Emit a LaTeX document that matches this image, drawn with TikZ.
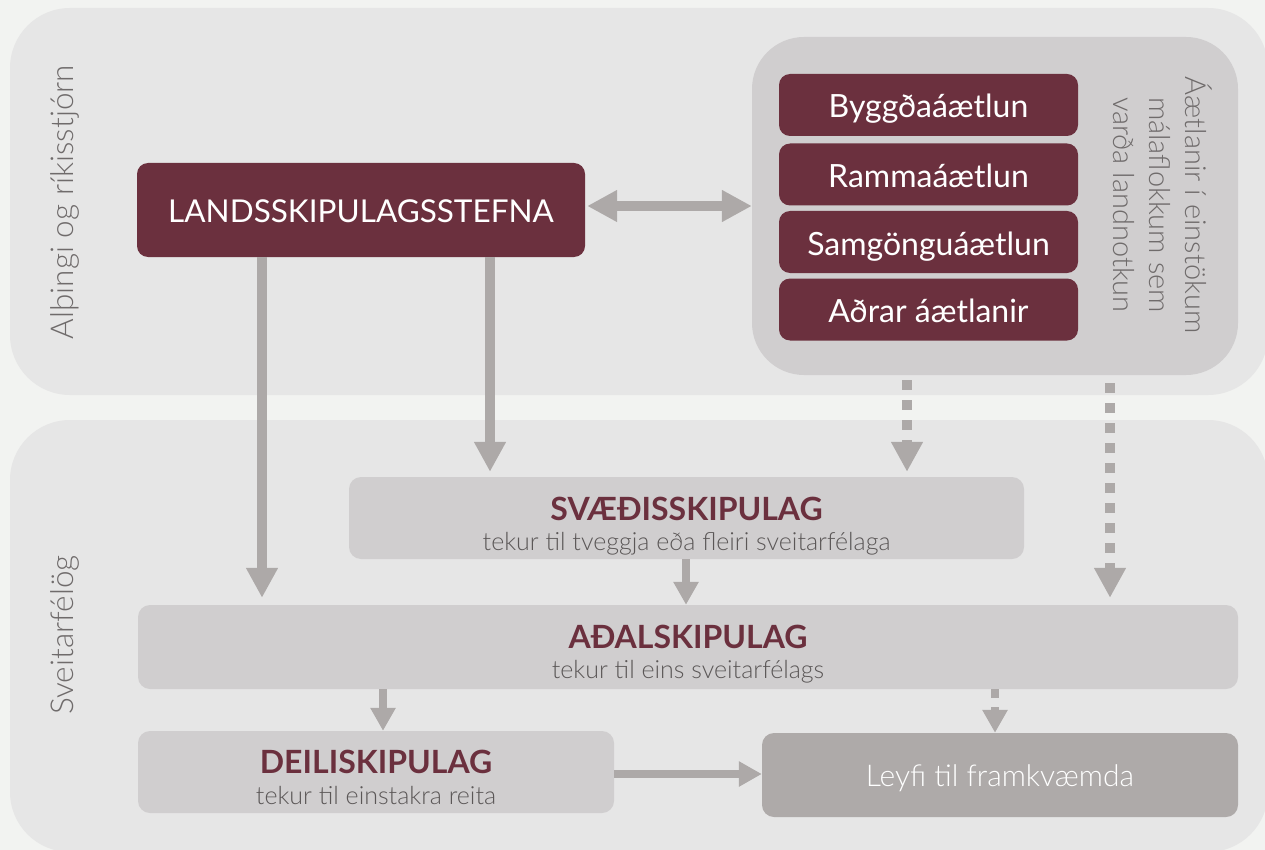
\documentclass[tikz,border=0pt]{standalone}
\usepackage{fontspec}
\setmainfont{Lato}
\newfontfamily\lightfont{Lato Light}
\usetikzlibrary{arrows.meta}
\definecolor{bgc}{HTML}{F2F3F1}
\definecolor{panelc}{HTML}{E6E6E6}
\definecolor{boxc}{HTML}{D0CECF}
\definecolor{maroon}{HTML}{6B303E}
\definecolor{arrowc}{HTML}{ADA9A8}
\definecolor{leyfic}{HTML}{AEAAA9}
\definecolor{labelc}{HTML}{6F6B6B}
\definecolor{subc}{HTML}{5B5757}
\newcommand{\fsz}[1]{\fontsize{#1}{#1}\selectfont}
\tikzset{
  panelbox/.style={fill=panelc, draw=none, rounded corners=60pt, inner sep=0pt, rectangle},
  subpanel/.style={fill=boxc, draw=none, rounded corners=52pt, inner sep=0pt, rectangle},
  darkbox/.style={fill=maroon, draw=none, rounded corners=11pt, inner sep=0pt, text=white, rectangle, text height=30pt, text depth=4pt},
  lightbox/.style={fill=boxc, draw=none, rounded corners=12pt, inner sep=0pt, rectangle},
  leyfibox/.style={fill=leyfic, draw=none, rounded corners=12pt, inner sep=0pt, rectangle, text=white, font=\lightfont\fsz{30}, text height=26pt, text depth=4pt},
  sidelabel/.style={text=labelc, font=\lightfont\fsz{31.5}, inner sep=0pt},
  titletext/.style={text=maroon, font=\bfseries\fsz{32}, inner sep=0pt, anchor=base},
  subtext/.style={text=subc, font=\lightfont\fsz{25}, inner sep=0pt, anchor=base},
  bigarrow/.style={draw=arrowc, line width=10pt, -{Triangle[length=30pt,width=30pt]}},
  dotarrow/.style={bigarrow, dash pattern=on 10pt off 10pt},
  smallarrow/.style={draw=arrowc, line width=8pt, -{Triangle[length=23pt,width=24pt]}},
  dblarrow/.style={draw=arrowc, line width=10pt, {Triangle[length=30pt,width=30pt]}-{Triangle[length=30pt,width=30pt]}}
}
\begin{document}
\begin{tikzpicture}[x=1pt,y=-1pt]
\useasboundingbox (0,0) rectangle (1265,850);
\fill[bgc] (0,0) rectangle (1265,850);
\begin{scope}
\clip (0,0) rectangle (1265,850);
\node[panelbox, minimum width=1258pt, minimum height=387pt] (toppanel) at (639,201.5) {};
\node[panelbox, minimum width=1258pt, minimum height=432pt] (botpanel) at (639,636) {};
\end{scope}

\node[sidelabel, rotate=90] (lab1) at (65,202) {Alþingi og ríkisstjórn};
\node[sidelabel, rotate=90] (lab2) at (65,635) {Sveitarfélög};

\node[darkbox, minimum width=448pt, minimum height=94pt, font=\fsz{31.5}] (lands) at (361,210) {LANDSSKIPULAGSSTEFNA};

\node[subpanel, minimum width=486pt, minimum height=338pt] (plans) at (995,206) {};
\node[darkbox, minimum width=299pt, minimum height=62pt, font=\fsz{32}] (p1) at (928.5,105) {Byggðaáætlun};
\node[darkbox, minimum width=299pt, minimum height=62pt, font=\fsz{32}] (p2) at (928.5,174.5) {Rammaáætlun};
\node[darkbox, minimum width=299pt, minimum height=62pt, font=\fsz{32}] (p3) at (928.5,242) {Samgönguáætlun};
\node[darkbox, minimum width=299pt, minimum height=62pt, font=\fsz{32}] (p4) at (928.5,309.5) {Aðrar áætlanir};
\node[rotate=-90, align=center, text=labelc, font=\lightfont\fontsize{29}{36}\selectfont, inner sep=0pt] (plabel) at (1163,205) {Áætlanir í einstökum\\málaflokkum sem\\varða landnotkun};

\node[lightbox, minimum width=675pt, minimum height=82pt] (svaedis) at (686.5,518) {};
\node[titletext] (svt) at (686.5,520) {SVÆÐISSKIPULAG};
\node[subtext] (svs) at (686.5,550) {tekur til tveggja eða fleiri sveitarfélaga};

\node[lightbox, minimum width=1100pt, minimum height=84pt] (adal) at (688,647) {};
\node[titletext] (adt) at (688,648) {AÐALSKIPULAG};
\node[subtext] (ads) at (688,678) {tekur til eins sveitarfélags};

\node[lightbox, minimum width=476pt, minimum height=82pt] (deili) at (376,772) {};
\node[titletext] (det) at (376,773) {DEILISKIPULAG};
\node[subtext] (des) at (376,804) {tekur til einstakra reita};

\node[leyfibox, minimum width=476pt, minimum height=84pt] (leyfi) at (1000,775) {Leyfi til framkvæmda};

\coordinate (c262) at (262,0);
\coordinate (c490) at (490,0);
\coordinate (c907) at (907,0);
\coordinate (c1110) at (1110,0);
\coordinate (c686) at (686,0);
\coordinate (c383) at (383,0);
\coordinate (c995) at (995,0);
\coordinate (r774) at (0,774);

\draw[dblarrow, shorten <=2pt] (lands.east |- plans.west) -- (plans.west);
\draw[bigarrow, shorten >=7pt] (lands.south -| c262) -- (adal.north -| c262);
\draw[bigarrow, shorten >=5pt] (lands.south -| c490) -- (svaedis.north -| c490);
\draw[dotarrow, shorten <=5pt, shorten >=5pt] (plans.south -| c907) -- (svaedis.north -| c907);
\draw[dotarrow, shorten <=8pt, shorten >=7pt] (plans.south -| c1110) -- (adal.north -| c1110);
\draw[smallarrow] (svaedis.south -| c686) -- (adal.north -| c686);
\draw[smallarrow] (adal.south -| c383) -- (deili.north -| c383);
\draw[smallarrow, dash pattern=on 9pt off 9pt] (adal.south -| c995) -- (leyfi.north -| c995);
\draw[smallarrow] (deili.east |- r774) -- (leyfi.west |- r774);
\end{tikzpicture}
\end{document}
